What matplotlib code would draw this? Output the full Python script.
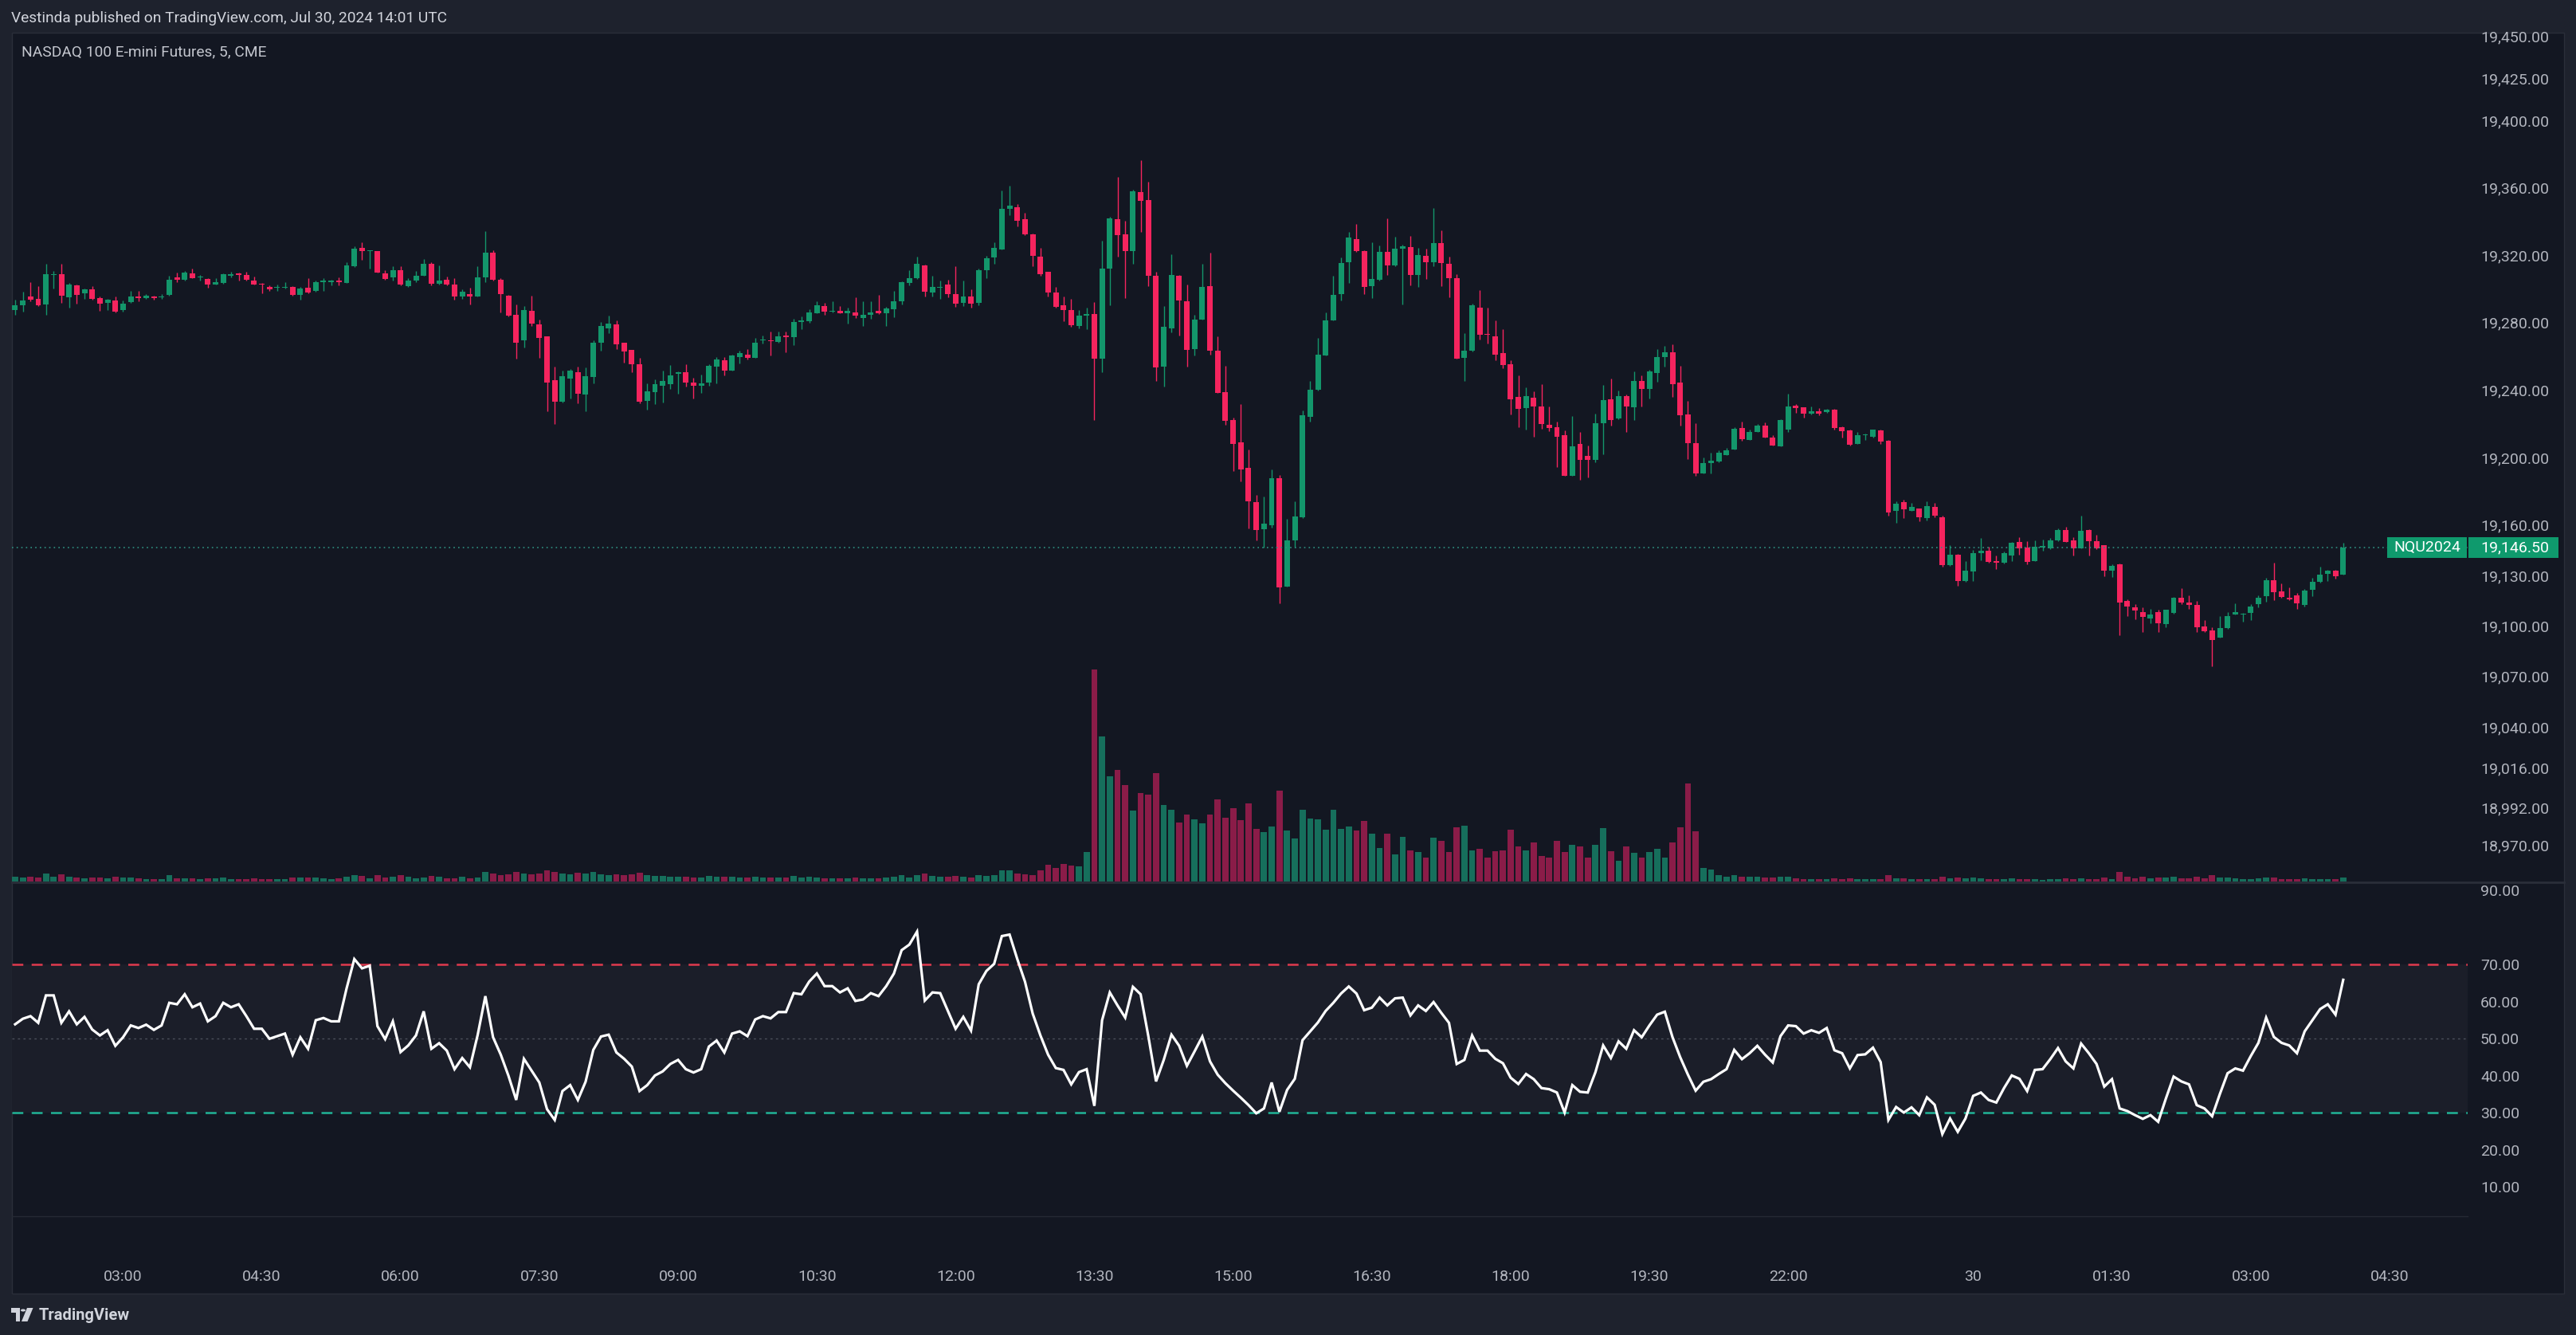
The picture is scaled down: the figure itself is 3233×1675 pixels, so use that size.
import matplotlib
matplotlib.use("Agg")
import matplotlib.pyplot as plt
from matplotlib.patches import Rectangle, Polygon, Circle
from matplotlib.transforms import blended_transform_factory
from datetime import datetime, timedelta

# ---- NQU2024 5-minute candles ----
opens = [
    19287.3, 19290.3, 19295.3, 19293.9, 19290.7, 19308.2, 19309.0, 19294.9, 19302.2, 19297.3,
    19299.6, 19294.7, 19291.7, 19293.3, 19287.7, 19292.1, 19295.7, 19294.5, 19295.3, 19294.9,
    19296.3, 19307.0, 19305.4, 19309.2, 19307.0, 19306.0, 19302.6, 19303.6, 19307.8, 19309.4,
    19308.2, 19305.2, 19303.2, 19301.0, 19300.6, 19300.6, 19301.4, 19296.3, 19300.8, 19298.7,
    19303.8, 19303.8, 19304.8, 19303.6, 19313.5, 19324.5, 19322.3, 19322.5, 19309.4, 19306.8,
    19311.2, 19301.6, 19304.8, 19307.8, 19315.1, 19303.0, 19305.6, 19302.8, 19295.5, 19297.1,
    19295.5, 19307.0, 19321.7, 19305.6, 19296.1, 19284.8, 19269.5, 19286.9, 19278.8, 19271.7,
    19245.7, 19233.2, 19246.9, 19250.8, 19237.5, 19247.7, 19268.1, 19276.6, 19278.8, 19267.9,
    19263.7, 19255.2, 19233.6, 19238.9, 19242.7, 19243.3, 19249.4, 19250.4, 19244.5, 19242.5,
    19244.3, 19254.0, 19257.6, 19251.6, 19259.6, 19261.0, 19259.2, 19269.3, 19269.5, 19268.5,
    19272.5, 19271.5, 19280.6, 19280.8, 19285.8, 19289.9, 19286.4, 19286.9, 19285.6, 19286.0,
    19282.8, 19284.6, 19286.9, 19285.6, 19287.9, 19292.9, 19303.4, 19306.2, 19314.1, 19297.7,
    19300.6, 19302.4, 19297.1, 19291.7, 19295.7, 19291.9, 19311.0, 19318.5, 19323.5, 19347.7,
    19348.5, 19341.5, 19332.6, 19319.3, 19310.0, 19298.1, 19290.3, 19287.7, 19278.2, 19284.2,
    19285.2, 19258.6, 19312.0, 19341.5, 19332.6, 19322.7, 19357.4, 19352.8, 19308.0, 19254.0,
    19276.8, 19308.0, 19292.5, 19264.3, 19281.8, 19301.8, 19263.5, 19238.7, 19222.3, 19208.8,
    19193.7, 19173.5, 19157.2, 19159.8, 19187.7, 19123.5, 19150.6, 19164.3, 19224.2, 19240.1,
    19260.6, 19281.4, 19296.9, 19315.9, 19329.6, 19322.5, 19301.8, 19305.4, 19322.1, 19313.9,
    19323.7, 19324.8, 19308.2, 19319.7, 19315.7, 19327.0, 19314.9, 19306.2, 19259.2, 19263.3,
    19289.1, 19273.5, 19272.1, 19261.9, 19255.2, 19235.8, 19229.2, 19235.4, 19230.2, 19219.3,
    19217.9, 19213.3, 19189.1, 19208.0, 19201.0, 19198.5, 19220.3, 19234.6, 19223.1, 19236.2,
    19230.0, 19245.5, 19240.5, 19250.2, 19259.6, 19262.2, 19244.5, 19225.4, 19208.6, 19190.5,
    19196.5, 19197.5, 19201.6, 19204.8, 19217.3, 19210.4, 19215.1, 19218.7, 19211.7, 19206.8,
    19216.3, 19230.6, 19229.6, 19226.0, 19227.4, 19227.0, 19228.4, 19217.9, 19215.9, 19208.2,
    19213.1, 19212.3, 19216.1, 19209.8, 19168.3, 19173.3, 19168.5, 19169.5, 19164.1, 19170.7,
    19164.5, 19136.0, 19142.3, 19126.6, 19132.2, 19143.3, 19144.7, 19138.7, 19137.5, 19141.7,
    19149.6, 19146.3, 19138.7, 19146.5, 19146.1, 19150.8, 19157.0, 19150.8, 19146.1, 19157.0,
    19150.4, 19147.7, 19132.6, 19136.5, 19114.9, 19111.0, 19108.0, 19104.4, 19108.0, 19101.2,
    19107.8, 19116.9, 19114.1, 19112.3, 19099.6, 19097.3, 19093.1, 19098.5, 19107.0, 19106.8,
    19107.8, 19112.9, 19117.5, 19127.2, 19120.5, 19116.9, 19117.9, 19112.3, 19121.3, 19126.2,
    19130.8, 19132.6, 19130.6,
]
highs = [
    19293.5, 19298.5, 19304.2, 19301.8, 19315.1, 19310.6, 19315.1, 19303.4, 19302.6, 19300.4,
    19301.8, 19295.3, 19293.9, 19295.7, 19293.3, 19298.9, 19298.9, 19297.1, 19296.1, 19297.1,
    19307.6, 19309.8, 19310.8, 19312.0, 19308.4, 19306.2, 19306.6, 19309.2, 19310.0, 19309.6,
    19310.0, 19307.4, 19303.6, 19302.0, 19302.8, 19304.2, 19301.6, 19301.4, 19306.6, 19304.8,
    19306.6, 19305.6, 19307.0, 19315.7, 19325.4, 19327.8, 19322.9, 19322.7, 19311.0, 19313.5,
    19313.3, 19306.4, 19310.8, 19317.7, 19315.9, 19313.9, 19307.4, 19306.2, 19299.7, 19300.8,
    19313.5, 19334.2, 19322.9, 19306.4, 19296.3, 19290.9, 19289.9, 19296.1, 19282.0, 19271.7,
    19254.0, 19251.4, 19252.6, 19254.0, 19253.6, 19269.5, 19280.4, 19284.4, 19281.4, 19268.1,
    19263.7, 19259.0, 19243.9, 19246.5, 19251.4, 19255.0, 19251.2, 19255.4, 19247.5, 19249.3,
    19255.4, 19259.8, 19259.4, 19260.8, 19263.5, 19264.5, 19270.7, 19272.5, 19274.5, 19274.9,
    19274.9, 19282.2, 19283.8, 19287.9, 19292.5, 19291.5, 19292.9, 19289.9, 19288.9, 19295.1,
    19292.9, 19292.5, 19296.7, 19289.3, 19298.9, 19304.6, 19311.0, 19319.3, 19314.3, 19308.0,
    19305.2, 19305.6, 19313.7, 19304.8, 19299.9, 19312.0, 19319.7, 19327.8, 19358.4, 19361.4,
    19350.6, 19345.3, 19332.8, 19324.5, 19310.2, 19301.2, 19295.3, 19294.3, 19287.5, 19288.9,
    19292.3, 19328.4, 19342.9, 19366.5, 19340.5, 19358.8, 19376.2, 19363.7, 19310.4, 19289.9,
    19320.7, 19308.2, 19302.8, 19284.8, 19315.1, 19321.7, 19272.1, 19254.2, 19223.4, 19231.8,
    19204.6, 19177.8, 19176.8, 19192.9, 19189.5, 19163.7, 19174.0, 19227.8, 19245.5, 19271.1,
    19286.2, 19307.8, 19318.9, 19334.0, 19338.5, 19322.9, 19327.6, 19325.8, 19341.9, 19331.2,
    19326.2, 19331.6, 19324.3, 19323.9, 19348.1, 19334.6, 19319.1, 19309.0, 19273.9, 19291.3,
    19299.5, 19288.7, 19281.2, 19276.0, 19257.6, 19248.5, 19241.5, 19239.1, 19243.7, 19230.4,
    19221.1, 19216.1, 19224.4, 19215.1, 19207.0, 19226.2, 19242.9, 19246.7, 19239.9, 19237.1,
    19251.0, 19248.5, 19252.2, 19264.1, 19266.1, 19267.3, 19254.2, 19233.4, 19220.3, 19199.9,
    19202.8, 19204.4, 19205.8, 19217.9, 19221.1, 19216.3, 19219.7, 19220.9, 19213.3, 19222.7,
    19237.7, 19231.6, 19229.8, 19230.2, 19229.2, 19228.8, 19229.0, 19218.3, 19216.3, 19215.3,
    19214.1, 19216.7, 19216.7, 19210.2, 19174.0, 19174.8, 19173.1, 19169.9, 19174.0, 19173.1,
    19165.5, 19147.7, 19142.5, 19138.7, 19145.3, 19152.4, 19147.1, 19141.7, 19144.3, 19149.8,
    19152.8, 19150.4, 19151.0, 19151.2, 19152.2, 19158.0, 19158.8, 19152.8, 19165.5, 19157.2,
    19154.2, 19148.1, 19136.7, 19136.9, 19115.7, 19112.7, 19110.9, 19110.0, 19109.4, 19109.8,
    19117.1, 19122.5, 19118.1, 19114.9, 19103.4, 19099.0, 19105.8, 19108.2, 19113.5, 19107.6,
    19112.7, 19117.9, 19128.6, 19137.7, 19125.0, 19122.9, 19119.5, 19122.1, 19128.6, 19135.2,
    19133.2, 19133.2, 19149.2,
]
lows = [
    19284.8, 19286.4, 19292.9, 19289.9, 19284.8, 19300.2, 19291.7, 19288.9, 19291.3, 19294.1,
    19293.7, 19287.0, 19287.7, 19286.0, 19286.4, 19291.9, 19292.7, 19294.1, 19293.5, 19294.3,
    19296.1, 19304.0, 19305.2, 19306.2, 19305.2, 19300.6, 19302.4, 19303.0, 19307.0, 19304.8,
    19305.2, 19302.4, 19297.3, 19298.7, 19298.7, 19300.4, 19296.1, 19293.5, 19297.5, 19298.3,
    19298.7, 19302.0, 19302.0, 19303.4, 19313.1, 19317.5, 19312.0, 19309.6, 19305.6, 19305.0,
    19302.0, 19301.4, 19304.0, 19307.6, 19302.0, 19302.8, 19302.0, 19293.5, 19294.3, 19290.7,
    19295.3, 19304.0, 19305.0, 19286.0, 19283.6, 19258.6, 19265.3, 19278.0, 19259.2, 19227.4,
    19219.9, 19232.4, 19235.2, 19232.0, 19227.4, 19243.9, 19263.5, 19273.7, 19264.3, 19256.2,
    19250.6, 19232.2, 19228.4, 19231.8, 19232.4, 19240.5, 19237.7, 19241.9, 19234.8, 19238.5,
    19242.5, 19244.1, 19248.5, 19251.4, 19255.6, 19258.0, 19259.0, 19267.5, 19260.4, 19268.1,
    19262.3, 19266.5, 19276.2, 19279.8, 19285.6, 19284.6, 19286.0, 19285.4, 19279.2, 19282.8,
    19277.8, 19282.2, 19285.0, 19278.0, 19283.0, 19290.9, 19302.0, 19305.8, 19295.3, 19295.3,
    19293.9, 19294.9, 19289.3, 19289.9, 19288.9, 19290.5, 19306.4, 19315.1, 19323.3, 19343.9,
    19337.2, 19331.8, 19313.7, 19308.0, 19295.3, 19289.1, 19280.8, 19277.6, 19276.4, 19276.2,
    19222.3, 19250.4, 19290.3, 19319.1, 19294.7, 19314.9, 19334.0, 19301.6, 19245.5, 19241.9,
    19274.1, 19272.3, 19254.0, 19260.6, 19281.6, 19261.0, 19238.1, 19219.3, 19191.7, 19186.0,
    19157.8, 19150.6, 19146.5, 19158.2, 19113.5, 19123.4, 19146.7, 19164.1, 19221.3, 19239.7,
    19260.4, 19281.2, 19293.3, 19303.4, 19321.9, 19296.9, 19294.5, 19305.2, 19308.2, 19313.5,
    19290.7, 19302.0, 19301.2, 19305.8, 19313.5, 19301.8, 19294.9, 19258.6, 19245.5, 19263.1,
    19269.9, 19267.7, 19257.8, 19252.8, 19225.6, 19217.9, 19216.3, 19212.3, 19216.9, 19215.7,
    19194.1, 19188.9, 19188.9, 19186.7, 19188.1, 19197.1, 19202.0, 19219.1, 19222.9, 19214.9,
    19222.3, 19230.4, 19235.0, 19245.1, 19254.0, 19236.0, 19219.1, 19199.2, 19189.1, 19190.3,
    19190.3, 19196.9, 19201.4, 19204.6, 19210.0, 19210.2, 19214.9, 19211.7, 19207.0, 19206.6,
    19215.1, 19226.4, 19223.7, 19225.6, 19225.2, 19226.4, 19216.3, 19211.7, 19207.2, 19208.0,
    19210.2, 19211.7, 19208.2, 19165.5, 19161.4, 19163.9, 19168.3, 19161.9, 19162.7, 19164.3,
    19135.2, 19135.6, 19123.6, 19126.4, 19126.6, 19139.1, 19137.5, 19133.6, 19136.9, 19138.3,
    19142.3, 19136.5, 19138.5, 19144.7, 19145.7, 19150.4, 19149.8, 19141.7, 19145.9, 19141.7,
    19145.7, 19129.6, 19129.0, 19094.7, 19106.0, 19104.0, 19096.5, 19101.4, 19096.5, 19099.0,
    19107.4, 19112.9, 19110.0, 19096.5, 19096.3, 19076.2, 19092.9, 19098.1, 19106.8, 19102.6,
    19103.4, 19111.1, 19114.5, 19115.5, 19116.9, 19115.5, 19110.0, 19111.3, 19117.5, 19125.8,
    19126.6, 19128.0, 19130.4,
]
closes = [
    19290.5, 19293.3, 19293.5, 19290.5, 19309.0, 19309.0, 19295.9, 19302.8, 19296.3, 19299.9,
    19294.1, 19291.3, 19293.7, 19286.4, 19291.1, 19295.7, 19294.5, 19296.1, 19294.5, 19295.7,
    19305.6, 19305.4, 19309.8, 19306.4, 19307.4, 19302.8, 19304.0, 19309.0, 19308.6, 19308.2,
    19305.4, 19302.6, 19302.8, 19299.8, 19301.2, 19301.4, 19296.3, 19300.2, 19297.7, 19304.2,
    19304.8, 19304.8, 19304.2, 19313.9, 19323.9, 19322.3, 19322.7, 19309.6, 19305.8, 19311.2,
    19302.4, 19304.8, 19307.6, 19315.1, 19303.0, 19304.8, 19302.6, 19295.3, 19298.5, 19295.3,
    19307.0, 19321.7, 19305.6, 19296.9, 19284.0, 19268.3, 19287.7, 19279.2, 19270.9, 19244.5,
    19233.2, 19248.1, 19251.4, 19237.9, 19248.1, 19267.9, 19277.8, 19279.2, 19267.1, 19262.7,
    19255.4, 19233.2, 19239.3, 19243.3, 19245.3, 19248.9, 19250.8, 19244.3, 19242.5, 19244.1,
    19254.6, 19258.0, 19251.6, 19260.4, 19261.8, 19259.2, 19268.3, 19270.1, 19268.9, 19271.7,
    19271.3, 19280.6, 19281.4, 19286.2, 19290.1, 19286.4, 19287.0, 19285.6, 19286.8, 19284.0,
    19284.8, 19286.0, 19285.4, 19288.3, 19292.9, 19303.8, 19306.6, 19314.7, 19298.3, 19301.4,
    19301.4, 19296.9, 19291.1, 19295.3, 19291.1, 19311.2, 19318.3, 19324.5, 19347.5, 19349.3,
    19340.5, 19332.2, 19319.5, 19309.0, 19297.7, 19289.3, 19287.3, 19278.6, 19284.0, 19285.2,
    19258.6, 19312.2, 19341.9, 19332.0, 19322.7, 19358.0, 19352.4, 19307.6, 19253.4, 19277.4,
    19308.4, 19293.1, 19263.9, 19282.0, 19301.4, 19263.3, 19238.3, 19221.9, 19207.8, 19193.1,
    19174.0, 19156.8, 19160.6, 19187.7, 19122.8, 19151.0, 19164.9, 19225.0, 19240.1, 19260.8,
    19281.2, 19296.7, 19315.5, 19330.6, 19322.3, 19301.2, 19306.0, 19322.1, 19313.9, 19323.7,
    19325.2, 19308.2, 19320.3, 19315.7, 19327.0, 19315.3, 19306.4, 19258.8, 19263.3, 19290.3,
    19272.7, 19272.7, 19261.0, 19254.8, 19234.6, 19229.0, 19236.2, 19230.4, 19219.9, 19217.7,
    19212.3, 19189.1, 19206.6, 19198.7, 19198.7, 19220.3, 19234.2, 19222.3, 19236.2, 19230.4,
    19245.5, 19240.7, 19251.0, 19259.6, 19262.5, 19243.3, 19225.2, 19208.6, 19190.7, 19196.5,
    19198.1, 19202.6, 19204.4, 19216.9, 19210.8, 19215.1, 19218.9, 19211.9, 19207.2, 19222.3,
    19230.2, 19229.4, 19226.2, 19227.6, 19226.2, 19228.4, 19217.5, 19215.7, 19207.6, 19213.1,
    19213.7, 19216.3, 19209.4, 19167.5, 19172.5, 19169.1, 19170.5, 19164.3, 19171.1, 19165.3,
    19135.9, 19142.3, 19126.8, 19133.0, 19143.3, 19144.7, 19138.1, 19137.5, 19143.3, 19149.2,
    19146.1, 19138.1, 19147.1, 19147.3, 19151.0, 19156.8, 19150.0, 19146.1, 19156.4, 19150.4,
    19145.9, 19133.0, 19135.6, 19113.9, 19111.5, 19109.0, 19105.4, 19107.0, 19101.6, 19109.4,
    19116.9, 19114.1, 19112.5, 19099.0, 19096.7, 19091.5, 19098.6, 19106.0, 19108.0, 19107.2,
    19111.3, 19116.9, 19127.2, 19119.9, 19117.3, 19115.9, 19113.3, 19120.9, 19126.2, 19130.4,
    19132.6, 19129.6, 19146.5,
]
volumes = [
    120, 100, 120, 100, 200, 120, 180, 120, 100, 80,
    100, 100, 80, 120, 100, 100, 80, 60, 60, 60,
    160, 80, 80, 80, 60, 80, 80, 100, 60, 60,
    60, 80, 60, 60, 60, 60, 100, 100, 100, 100,
    80, 60, 80, 120, 160, 140, 80, 160, 100, 120,
    160, 120, 80, 100, 140, 120, 80, 80, 120, 80,
    100, 240, 200, 160, 180, 240, 200, 180, 200, 280,
    240, 200, 180, 220, 200, 240, 180, 160, 180, 160,
    180, 220, 160, 140, 140, 120, 120, 120, 100, 100,
    140, 120, 120, 120, 100, 100, 120, 100, 100, 100,
    100, 140, 100, 120, 100, 80, 80, 80, 80, 100,
    80, 80, 80, 100, 120, 160, 100, 160, 200, 140,
    120, 120, 140, 120, 100, 160, 140, 160, 280, 280,
    200, 180, 160, 290, 420, 350, 450, 400, 390, 750,
    5330, 3650, 2640, 2800, 2430, 1790, 2220, 2180, 2720, 1920,
    1800, 1490, 1680, 1570, 1470, 1680, 2060, 1600, 1840, 1550,
    1970, 1330, 1250, 1380, 2290, 1280, 1080, 1800, 1580, 1570,
    1310, 1810, 1330, 1380, 1290, 1530, 1200, 850, 1200, 680,
    1120, 780, 750, 610, 1100, 1020, 750, 1370, 1410, 780,
    830, 610, 770, 780, 1310, 880, 780, 990, 640, 610,
    1030, 750, 920, 880, 610, 920, 1350, 770, 520, 880,
    720, 600, 750, 820, 600, 980, 1370, 2470, 1260, 340,
    310, 160, 120, 160, 120, 130, 120, 100, 100, 120,
    120, 80, 60, 60, 60, 60, 80, 60, 80, 60,
    60, 60, 60, 160, 80, 80, 60, 60, 60, 60,
    120, 80, 100, 80, 100, 80, 60, 60, 60, 80,
    60, 60, 60, 40, 60, 60, 80, 60, 80, 60,
    60, 100, 60, 240, 120, 80, 120, 80, 100, 100,
    120, 80, 80, 120, 80, 160, 100, 100, 80, 60,
    60, 80, 100, 100, 60, 60, 60, 80, 60, 60,
    60, 60, 100,
]
rsi = [
    53.9, 55.4, 56.1, 54.3, 61.7, 61.7, 54.3, 57.4, 53.9, 55.9,
    52.5, 50.9, 52.3, 48.1, 50.4, 53.6, 52.9, 53.8, 52.4, 53.6,
    59.7, 59.3, 62.0, 58.5, 59.5, 54.7, 56.1, 59.7, 58.5, 59.3,
    56.1, 52.7, 52.7, 50.0, 50.7, 51.4, 45.7, 50.4, 47.3, 55.0,
    55.6, 54.7, 54.7, 63.6, 71.5, 69.0, 69.7, 53.4, 49.9, 54.7,
    46.4, 48.2, 50.9, 57.4, 47.3, 48.8, 46.8, 41.8, 44.8, 42.3,
    51.0, 61.5, 50.4, 45.7, 40.0, 33.5, 44.6, 41.4, 38.2, 31.0,
    28.1, 35.9, 37.5, 33.5, 38.4, 47.0, 50.6, 51.1, 46.3, 44.6,
    42.5, 35.9, 37.5, 40.1, 41.2, 43.2, 44.3, 41.8, 40.9, 41.8,
    47.9, 49.5, 46.3, 51.4, 52.0, 50.7, 55.2, 56.1, 55.5, 57.2,
    57.2, 62.3, 62.0, 65.4, 67.6, 64.2, 64.2, 62.5, 63.6, 60.2,
    60.6, 62.3, 61.5, 64.2, 67.6, 73.9, 75.4, 78.9, 60.3, 62.5,
    62.3, 57.5, 52.7, 55.9, 52.2, 64.7, 68.3, 70.2, 77.7, 78.1,
    71.5, 65.4, 56.8, 50.9, 45.7, 42.1, 41.6, 37.7, 41.0, 41.8,
    31.9, 55.0, 62.5, 59.0, 55.7, 64.0, 62.0, 50.7, 38.5, 44.3,
    51.1, 48.1, 42.7, 46.6, 50.6, 43.9, 40.3, 38.0, 36.0, 34.1,
    32.1, 29.9, 31.2, 38.2, 30.3, 36.2, 39.2, 49.6, 52.0, 54.4,
    57.5, 59.7, 62.2, 64.1, 62.2, 57.7, 58.4, 61.1, 59.0, 60.9,
    61.1, 56.3, 59.0, 57.5, 59.9, 57.0, 54.3, 43.2, 44.3, 50.9,
    46.8, 46.8, 44.6, 43.4, 39.5, 37.8, 40.5, 39.1, 36.7, 36.4,
    35.5, 30.1, 37.5, 35.7, 35.5, 41.0, 48.2, 44.8, 49.3, 47.3,
    52.3, 50.4, 53.6, 56.5, 57.3, 50.4, 45.0, 40.3, 36.0, 38.4,
    39.1, 40.5, 41.8, 47.0, 44.5, 46.1, 48.1, 45.7, 43.6, 50.7,
    53.6, 53.4, 51.4, 52.3, 51.6, 52.9, 46.9, 46.1, 42.0, 45.6,
    45.8, 47.6, 43.7, 28.1, 31.6, 30.1, 31.5, 29.4, 34.2, 32.2,
    24.3, 28.5, 24.9, 28.5, 34.6, 35.5, 33.5, 32.8, 36.7, 40.1,
    39.2, 35.9, 41.6, 41.8, 44.5, 47.5, 43.9, 42.0, 48.7, 46.1,
    43.2, 37.1, 39.1, 31.2, 30.5, 29.4, 28.4, 29.4, 27.6, 33.9,
    39.8, 38.5, 37.7, 32.1, 31.2, 29.1, 35.1, 40.7, 42.0, 41.4,
    45.3, 48.9, 55.7, 50.5, 48.9, 48.2, 46.1, 52.0, 55.0, 58.0,
    59.3, 56.5, 65.9,
]

price_ticks = [19450, 19425, 19400, 19360, 19320, 19280, 19240, 19200,
               19160, 19130, 19100, 19070, 19040, 19016, 18992, 18970]
rsi_ticks = [90, 70, 60, 50, 40, 30, 20, 10]
time_labels = ["03:00", "04:30", "06:00", "07:30", "09:00", "10:30", "12:00", "13:30",
               "15:00", "16:30", "18:00", "19:30", "22:00", "30", "01:30", "03:00", "04:30"]
time_stamps = ["29 03:00", "29 04:30", "29 06:00", "29 07:30", "29 09:00", "29 10:30",
               "29 12:00", "29 13:30", "29 15:00", "29 16:30", "29 18:00", "29 19:30",
               "29 22:00", "30 00:00", "30 01:30", "30 03:00", "30 04:30"]
symbol = "NQU2024"
last_price = 19146.50

# bar clock: 5-minute bars from 01:50, CME break 21:00-22:00 has no bars
bar_times = []
t = datetime(2024, 7, 29, 1, 50)
while len(bar_times) < 330:
    if t.hour != 21:
        bar_times.append(t.strftime("%d %H:%M"))
    t += timedelta(minutes=5)
time_pos = [bar_times.index(s) for s in time_stamps]

# ---- style ----
W, H = 3233, 1675
FRAME = "#1e222d"
BG = "#131722"
UP, DN = "#13966b", "#f5245e"
VUP, VDN = "#166f5c", "#8a1c48"
TXT = "#b2b5be"
FONT = ["Roboto", "DejaVu Sans"]
plt.rcParams["font.family"] = FONT

fig = plt.figure(figsize=(W / 100, H / 100), dpi=100)
fig.patch.set_facecolor(FRAME)


def fx(px):
    return px / W


def fy(py):
    return 1 - py / H


fig.add_artist(Rectangle((fx(15), fy(1623)), fx(3218) - fx(15), fy(41) - fy(1623),
                         transform=fig.transFigure, facecolor=BG, edgecolor="#2a2e39",
                         lw=1, zorder=-10))

ax = fig.add_axes([fx(15), fy(1106), fx(3097) - fx(15), fy(41) - fy(1106)])
axv = ax.twinx()
ax_r = fig.add_axes([fx(15), fy(1575), fx(3097) - fx(15), fy(1107) - fy(1575)], sharex=ax)

n = len(closes)
idx = list(range(n))
up = [c >= o for o, c in zip(opens, closes)]

# volume (behind the candles)
axv.bar(idx, volumes, width=0.8, color=[VUP if u else VDN for u in up], linewidth=0)
axv.set_ylim(0, 21300)
axv.set_yticks([])

# candles
ax.vlines(idx, lows, highs, colors=[UP if u else DN for u in up], linewidth=1.0)
bottoms = [min(o, c) for o, c in zip(opens, closes)]
heights = [max(abs(c - o), 0.45) for o, c in zip(opens, closes)]
ax.bar(idx, heights, bottom=bottoms, width=0.72,
       color=[UP if u else DN for u in up], linewidth=0)
axv.set_zorder(1)
ax.set_zorder(2)
ax_r.set_zorder(1)
ax.patch.set_visible(False)
axv.patch.set_visible(False)

ax.axhline(last_price, color="#2f8f80", lw=1.2, ls=(0, (1, 2.5)))

ax.set_xlim(-0.41, 318.14)
ax.set_ylim(18948.3, 19452.1)
ax.yaxis.tick_right()
ax.set_yticks(price_ticks)
ax.set_yticklabels([f"{p:,.2f}" for p in price_ticks])
ax.tick_params(axis="y", length=0, pad=11.5, labelsize=14, labelcolor=TXT)
ax.tick_params(axis="x", length=0, labelbottom=False)

# last price tag
tr = blended_transform_factory(ax.transAxes, ax.transData)
ax.add_patch(Rectangle((0.9672, last_price - 6.3), 1.0 - 0.9672 - 0.0003, 12.6, transform=tr,
                       facecolor="#0f9a6d", edgecolor="none", clip_on=False, zorder=5))
ax.add_patch(Rectangle((1.0003, last_price - 6.3), 1.0370 - 1.0003, 12.6, transform=tr,
                       facecolor="#0f9a6d", edgecolor="none", clip_on=False, zorder=5))
ax.text(0.9836, last_price, symbol, transform=tr, ha="center", va="center",
        color="white", fontsize=14, zorder=6, clip_on=False)
ax.text(1.0052, last_price, f"{last_price:,.2f}", transform=tr, ha="left", va="center",
        color="white", fontsize=14, zorder=6, clip_on=False)

# RSI pane
ax_r.axhspan(30, 70, color="#1b1e29", lw=0, zorder=0)
ax_r.axhline(70, color="#e03a4e", lw=1.8, ls=(0, (5.5, 4.2)))
ax_r.axhline(30, color="#21b497", lw=1.8, ls=(0, (5.5, 4.2)))
ax_r.axhline(50, color="#4c505b", lw=1.0, ls=(0, (2, 3)))
ax_r.plot(idx, rsi, color="white", lw=2.3, solid_joinstyle="miter", zorder=3)
ax_r.set_ylim(-8.4, 92.2)
ax_r.yaxis.tick_right()
ax_r.set_yticks(rsi_ticks)
ax_r.set_yticklabels([f"{v:.2f}" for v in rsi_ticks])
ax_r.tick_params(axis="y", length=0, pad=11.5, labelsize=14, labelcolor=TXT)
ax_r.set_xticks(time_pos)
ax_r.set_xticklabels(time_labels)
ax_r.tick_params(axis="x", length=0, pad=13, labelsize=14, labelcolor=TXT)
ax_r.patch.set_visible(False)

for a in (ax, axv, ax_r):
    for s in a.spines.values():
        s.set_visible(False)

# pane separators
fig.add_artist(plt.Line2D([fx(15), fx(3218)], [fy(1106.5), fy(1106.5)],
                          transform=fig.transFigure, color="#2a2e39", lw=2))
fig.add_artist(plt.Line2D([fx(15), fx(3097)], [fy(1526), fy(1526)],
                          transform=fig.transFigure, color="#262a35", lw=1))

# header / footer text
fig.text(fx(14), fy(23), "Vestinda published on TradingView.com, Jul 30, 2024 14:01 UTC",
         ha="left", va="center", color="#d1d4dc", fontsize=13.8)
fig.text(fx(27), fy(65), "NASDAQ 100 E-mini Futures, 5, CME",
         ha="left", va="center", color="#c3c6ce", fontsize=13.8)

logo = "#d1d4dc"
lx, ly = 14, 1641
fig.add_artist(Polygon([(fx(lx), fy(ly)), (fx(lx + 11), fy(ly)), (fx(lx + 11), fy(ly + 17)),
                        (fx(lx + 5.5), fy(ly + 17)), (fx(lx + 5.5), fy(ly + 6)), (fx(lx), fy(ly + 6))],
                       closed=True, transform=fig.transFigure, facecolor=logo, edgecolor="none"))
fig.add_artist(Polygon([(fx(lx + 20), fy(ly)), (fx(lx + 27.5), fy(ly)), (fx(lx + 20.5), fy(ly + 17)),
                        (fx(lx + 13), fy(ly + 17))],
                       closed=True, transform=fig.transFigure, facecolor=logo, edgecolor="none"))
fig.add_artist(Circle((fx(lx + 15), fy(ly + 3)), 3 / W, transform=fig.transFigure,
                      facecolor=logo, edgecolor="none"))
fig.text(fx(49), fy(1650), "TradingView", ha="left", va="center", color=logo,
         fontsize=14.5, fontweight="bold")

fig.savefig("out.png", dpi=100, facecolor=fig.get_facecolor())
